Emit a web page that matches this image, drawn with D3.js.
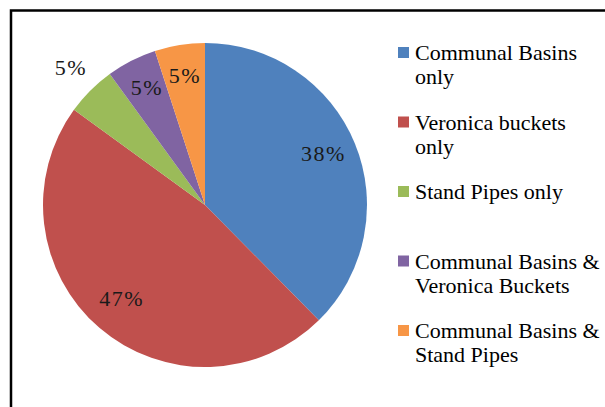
<!DOCTYPE html>
<html>
<head>
<meta charset="utf-8">
<script src="https://cdn.jsdelivr.net/npm/d3@7/dist/d3.min.js"></script>
<style>
  text { font-family: "Liberation Serif", "Times New Roman", Tinos, serif; }
</style>
</head>
<body style="margin:0">
<script>
// hand-washing facility share (labels round these)
var categories = [
    "Communal Basins only",
    "Veronica buckets only",
    "Stand Pipes only",
    "Communal Basins & Veronica Buckets",
    "Communal Basins & Stand Pipes"
];
var values = [37.6, 47.4, 5, 5, 5];
var legendLines = [
    ["Communal Basins", "only"],
    ["Veronica buckets", "only"],
    ["Stand Pipes only"],
    ["Communal Basins &", "Veronica Buckets"],
    ["Communal Basins &", "Stand Pipes"]
];
var colors = ["#4F81BD", "#C0504D", "#9BBB59", "#8064A2", "#F79646"];
// labels Excel pushed outside the slice ("best fit")
var outsideLabels = ["Stand Pipes only"];

var width = 605, height = 407;
var cx = 205, cy = 205, radius = 162;

var svg = d3.select("body").append("svg")
    .attr("width", width)
    .attr("height", height)
    .style("display", "block");

// chart frame, only top and left edges are inside the crop
svg.append("rect")
    .attr("x", 11)
    .attr("y", 10.5)
    .attr("width", 700)
    .attr("height", 500)
    .attr("fill", "none")
    .attr("stroke", "#000")
    .attr("stroke-width", 2.5);

var pie = d3.pie().sort(null).value(function (d) { return d; });
var arcs = pie(values);

var arc = d3.arc().innerRadius(0).outerRadius(radius);
var inLabel = d3.arc().innerRadius(radius * 0.79).outerRadius(radius * 0.79);
var outLabel = d3.arc().innerRadius(radius * 1.17).outerRadius(radius * 1.17);

var g = svg.append("g").attr("transform", "translate(" + cx + "," + cy + ")");

g.selectAll("path")
    .data(arcs)
    .enter().append("path")
    .attr("d", arc)
    .attr("fill", function (d, i) { return colors[i]; });

g.selectAll("text.pct")
    .data(arcs)
    .enter().append("text")
    .attr("class", "pct")
    .attr("transform", function (d, i) {
        var c = outsideLabels.indexOf(categories[i]) >= 0 ? outLabel.centroid(d) : inLabel.centroid(d);
        return "translate(" + c[0] + "," + c[1] + ")";
    })
    .attr("text-anchor", "middle")
    .attr("dy", "0.2em")
    .attr("font-size", 22)
    .attr("letter-spacing", 1.5)
    .attr("fill", "#1a1a1a")
    .text(function (d) { return Math.round(d.value) + "%"; });

// legend
var legendY = d3.scalePoint()
    .domain(categories)
    .range([60, 338]);

var legend = svg.append("g")
    .selectAll("g")
    .data(categories)
    .enter().append("g")
    .attr("transform", function (d) { return "translate(398," + legendY(d) + ")"; });

legend.append("rect")
    .attr("x", 0)
    .attr("y", -13)
    .attr("width", 11)
    .attr("height", 11)
    .attr("fill", function (d, i) { return colors[i]; });

legend.append("text")
    .attr("x", 17)
    .attr("font-size", 22)
    .attr("fill", "#000")
    .selectAll("tspan")
    .data(function (d, i) { return legendLines[i]; })
    .enter().append("tspan")
    .attr("x", 17)
    .attr("dy", function (d, j) { return j === 0 ? 0 : 24; })
    .text(function (d) { return d; });
</script>
</body>
</html>
